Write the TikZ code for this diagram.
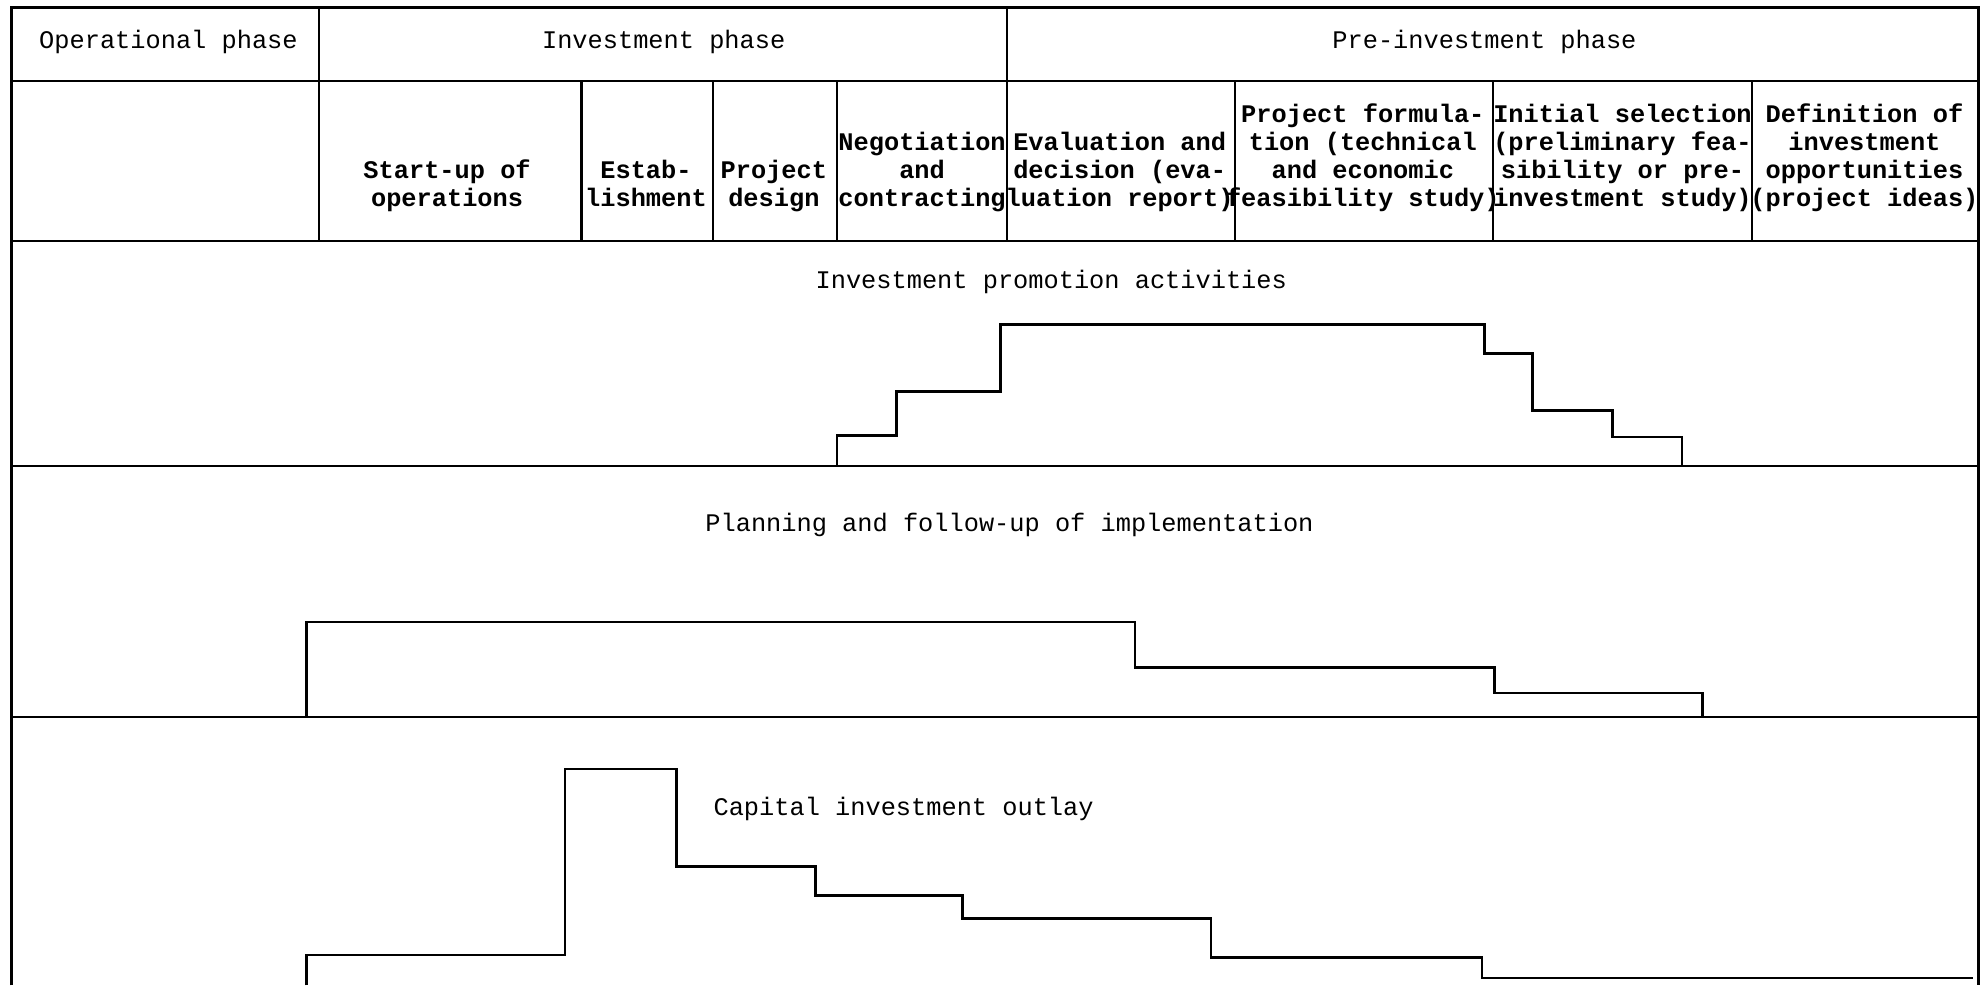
\documentclass[tikz,border=0pt]{standalone}
\usepackage{fontspec}
\setmonofont{Liberation Mono}
\begin{document}
\begin{tikzpicture}[x=0.5pt,y=-0.5pt,
  rule/.style={line width=0.9pt},
  curve/.style={line width=1pt, line join=miter},
  hdr/.style={font=\ttfamily\fontsize{10}{11}\selectfont, inner sep=0pt, anchor=base},
  sub/.style={font=\ttfamily\bfseries\fontsize{10}{11}\selectfont, inner sep=0pt, align=center, anchor=base},
  lbl/.style={font=\ttfamily\fontsize{10}{11}\selectfont, inner sep=0pt, anchor=base}]
\useasboundingbox (0,0) rectangle (1568,778);
% frame
\draw[rule] (9,778) -- (9,6) -- (1562,6) -- (1562,778);
\draw[rule] (9,64) -- (1562,64);
\draw[rule] (9,190) -- (1562,190);
\draw[rule] (9,368) -- (1562,368);
\draw[rule] (9,566) -- (1562,566);
% header columns
\draw[rule] (252,6) -- (252,190);
\draw[rule] (795,6) -- (795,190);
\foreach \x in {459,563,661,975,1179,1383} \draw[rule] (\x,64) -- (\x,190);
% header row 1
\node[hdr] (op) at (133,38) {Operational phase};
\node[hdr] (inv) at (524,38) {Investment phase};
\node[hdr] (pre) at (1172,38) {Pre-investment phase};
% header row 2 (base anchor = last line)
\node[sub] (c1) at (353,163) {Start-up of\\operations};
\node[sub] (c2) at (510,163) {Estab-\\lishment};
\node[sub] (c3) at (611,163) {Project\\design};
\node[sub] (c4) at (728,163) {Negotiation\\and\\contracting};
\node[sub] (c5) at (884,163) {Evaluation and\\decision (eva-\\luation report)};
\node[sub] (c6) at (1076,163) {Project formula-\\tion (technical\\and economic\\feasibility study)};
\node[sub] (c7) at (1281,163) {Initial selection\\(preliminary fea-\\sibility or pre-\\investment study)};
\node[sub] (c8) at (1472,163) {Definition of\\investment\\opportunities\\(project ideas)};
% band labels
\node[lbl] (promo) at (830,228) {Investment promotion activities};
\node[lbl] (plan) at (797,420) {Planning and follow-up of implementation};
\node[lbl, anchor=base west] (cap) at (563,644) {Capital investment outlay};
% step curves
\draw[curve] (661,368) -- (661,344) -- (708,344) -- (708,309) -- (790,309) -- (790,256)
  -- (1172,256) -- (1172,279) -- (1210,279) -- (1210,324) -- (1273,324) -- (1273,345)
  -- (1328,345) -- (1328,368);
\draw[curve] (242,566) -- (242,491) -- (896,491) -- (896,527) -- (1180,527) -- (1180,547)
  -- (1344,547) -- (1344,566);
\draw[curve] (242,778) -- (242,754) -- (446,754) -- (446,607) -- (534,607) -- (534,684)
  -- (644,684) -- (644,707) -- (760,707) -- (760,725) -- (956,725) -- (956,756)
  -- (1170,756) -- (1170,772) -- (1558,772);
\end{tikzpicture}
\end{document}
